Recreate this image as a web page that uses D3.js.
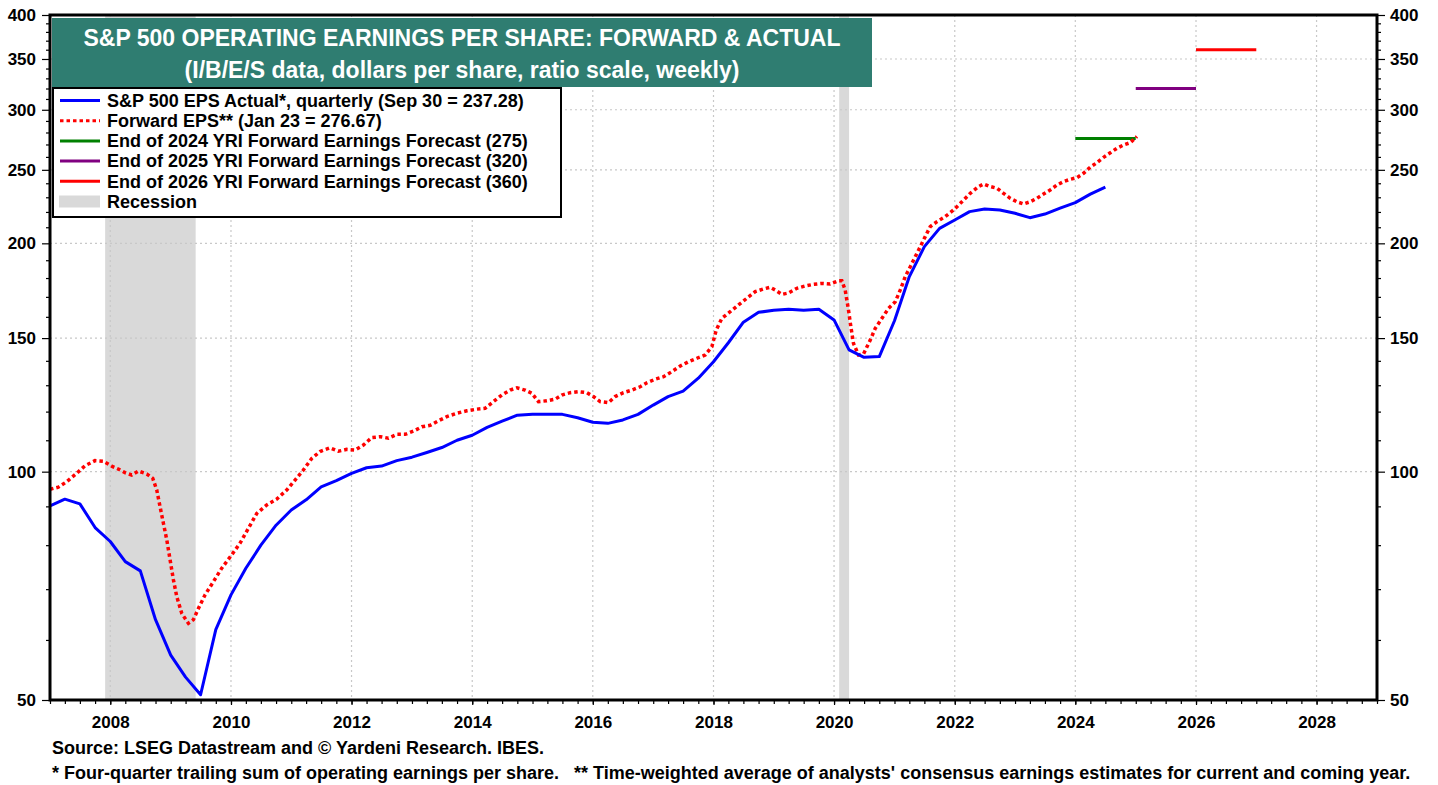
<!DOCTYPE html>
<html>
<head>
    <meta charset="utf-8">
    <style>
        body { margin: 0; background: #fff; }
        svg { font-family: Arial, 'Liberation Sans', sans-serif; font-weight: bold; }
        .grid line { stroke: #c8c8c8; stroke-width: 1.2; stroke-dasharray: 2,3; }
        .axis text { font-size: 17px; font-weight: bold; fill: #000; }
        .axis line { stroke: #000; stroke-width: 1.2; }
    </style>
</head>
<body>
<svg width="1438" height="785"></svg>

<script src="https://d3js.org/d3.v7.min.js"></script>
<script>
    // ---- data ----
    // S&P 500 actual EPS, four-quarter trailing, one value per quarter starting Q1 2007
    let actualStart = "2007-01-01"
    let actualEps = [90.1, 92.0, 90.7, 84.4, 80.9, 76.1, 74.0, 63.8, 57.3, 53.6,
        50.8, 61.9, 68.8, 74.6, 80.0, 85.0, 89.0, 91.8, 95.5, 97.3,
        99.5, 101.2, 101.7, 103.4, 104.5, 106.0, 107.6, 110.0, 111.7, 114.4,
        116.6, 118.7, 119.0, 119.0, 119.0, 117.8, 116.2, 115.8, 117.0, 119.0,
        122.4, 125.6, 127.7, 132.8, 139.6, 147.9, 157.4, 162.2, 163.2, 163.7,
        163.2, 163.7, 158.5, 144.7, 141.5, 141.8, 158.1, 180.8, 198.0, 209.3,
        214.7, 220.2, 222.0, 221.3, 219.1, 216.2, 218.6, 222.5, 226.3, 232.2,
        237.28]

    // forward EPS, sampled from the weekly line (decimal years)
    let fwdYears = [2007.000, 2007.138, 2007.277, 2007.443, 2007.580, 2007.746, 2007.884, 2008.023, 2008.133, 2008.244,
        2008.355, 2008.464, 2008.604, 2008.703, 2008.769, 2008.824, 2008.879, 2008.935, 2008.990, 2009.045,
        2009.101, 2009.184, 2009.294, 2009.376, 2009.459, 2009.570, 2009.708, 2009.847, 2010.013, 2010.151,
        2010.289, 2010.428, 2010.594, 2010.760, 2010.925, 2011.063, 2011.201, 2011.340, 2011.478, 2011.643,
        2011.781, 2011.920, 2012.058, 2012.196, 2012.335, 2012.473, 2012.610, 2012.750, 2012.887, 2013.025,
        2013.164, 2013.302, 2013.439, 2013.579, 2013.745, 2013.910, 2014.076, 2014.214, 2014.352, 2014.491,
        2014.629, 2014.740, 2014.877, 2014.988, 2015.098, 2015.237, 2015.375, 2015.486, 2015.624, 2015.761,
        2015.900, 2016.010, 2016.121, 2016.259, 2016.370, 2016.508, 2016.647, 2016.784, 2016.896, 2017.033,
        2017.171, 2017.310, 2017.448, 2017.585, 2017.725, 2017.862, 2017.973, 2018.045, 2018.139, 2018.277,
        2018.415, 2018.554, 2018.692, 2018.829, 2018.940, 2019.023, 2019.134, 2019.244, 2019.383, 2019.521,
        2019.658, 2019.798, 2019.935, 2020.073, 2020.129, 2020.184, 2020.239, 2020.278, 2020.322, 2020.405,
        2020.488, 2020.599, 2020.682, 2020.793, 2020.902, 2021.013, 2021.096, 2021.179, 2021.262, 2021.345,
        2021.428, 2021.510, 2021.593, 2021.705, 2021.842, 2021.980, 2022.119, 2022.257, 2022.395, 2022.478,
        2022.589, 2022.700, 2022.809, 2022.920, 2023.031, 2023.141, 2023.252, 2023.363, 2023.473, 2023.584,
        2023.695, 2023.804, 2023.915, 2024.026, 2024.136, 2024.247, 2024.357, 2024.468, 2024.579, 2024.688,
        2024.799, 2024.910, 2025.020]
    let fwdEps = [94.8, 95.4, 97.0, 99.5, 101.8, 103.4, 103.2, 101.7, 100.8, 99.7,
        99.0, 100.2, 99.3, 98.0, 94.6, 89.9, 85.5, 81.3, 76.5, 72.0,
        68.4, 65.0, 63.1, 63.8, 66.0, 68.8, 71.6, 74.6, 77.7, 80.5,
        84.2, 88.1, 90.4, 92.0, 94.6, 97.5, 100.5, 104.1, 106.3, 107.5,
        106.4, 107.0, 106.8, 108.4, 110.9, 111.2, 110.7, 112.0, 112.0, 113.1,
        114.6, 115.1, 116.7, 118.2, 119.4, 120.3, 120.9, 121.2, 123.7, 126.2,
        128.1, 129.0, 128.1, 126.9, 123.7, 124.0, 124.6, 126.2, 127.1, 127.5,
        127.1, 125.6, 123.7, 123.3, 125.6, 127.1, 128.1, 129.4, 131.0, 132.4,
        133.4, 135.5, 137.8, 139.6, 141.1, 142.5, 146.1, 153.7, 159.3, 162.5,
        165.9, 169.3, 172.7, 174.1, 175.0, 173.6, 171.3, 172.0, 174.5, 175.7,
        176.6, 177.1, 176.8, 178.5, 178.5, 173.6, 163.4, 155.3, 147.6, 142.5,
        143.0, 149.1, 154.5, 159.3, 164.2, 167.5, 173.6, 180.8, 186.3, 192.1,
        198.0, 204.1, 210.4, 213.6, 216.9, 221.3, 226.9, 232.8, 237.6, 239.5,
        237.6, 236.4, 232.8, 229.3, 226.9, 225.4, 226.9, 229.3, 232.3, 235.2,
        238.7, 241.2, 242.9, 244.1, 247.4, 252.0, 255.5, 259.7, 263.3, 266.9,
        269.6, 271.5, 276.67]

    // YRI forecasts for year-end 2024, 2025, 2026
    let forecastYears = [2024, 2025, 2026]
    let forecastValues = [275, 320, 360]
    let forecastColors = ["#008000", "#800080", "#ff0000"]

    let recessions = [["2007-12-01", "2009-06-01"], ["2020-02-01", "2020-04-01"]]

    let yTicks = [50, 100, 150, 200, 250, 300, 350, 400]
    let xLabelYears = [2008, 2010, 2012, 2014, 2016, 2018, 2020, 2022, 2024, 2026, 2028]

    let legendLabels = [
        "S&P 500 EPS Actual*, quarterly (Sep 30 = 237.28)",
        "Forward EPS** (Jan 23 = 276.67)",
        "End of 2024 YRI Forward Earnings Forecast (275)",
        "End of 2025 YRI Forward Earnings Forecast (320)",
        "End of 2026 YRI Forward Earnings Forecast (360)",
        "Recession"
    ]

    // ---- layout ----
    let margin = { top: 15, right: 61, bottom: 85, left: 50 }
    let width = 1438, height = 785
    let svg = d3.select("svg")

    let parseDate = d3.timeParse("%Y-%m-%d")
    function yearToDate(yr) {
        let y0 = Math.floor(yr)
        let start = new Date(y0, 0, 1), end = new Date(y0 + 1, 0, 1)
        return new Date(+start + (yr - y0) * (end - start))
    }

    let x = d3.scaleTime()
        .domain([new Date(2007, 0, 1), new Date(2029, 0, 1)])
        .range([margin.left, width - margin.right])
    let y = d3.scaleLog()
        .domain([50, 400])
        .range([height - margin.bottom, margin.top])

    let pLeft = margin.left, pRight = width - margin.right
    let pTop = margin.top, pBottom = height - margin.bottom

    // recession shading
    svg.append("g").selectAll("rect")
        .data(recessions)
        .enter().append("rect")
        .attr("x", d => x(parseDate(d[0])))
        .attr("width", d => x(parseDate(d[1])) - x(parseDate(d[0])))
        .attr("y", pTop)
        .attr("height", pBottom - pTop)
        .attr("fill", "#d9d9d9")

    // grid
    let grid = svg.append("g").attr("class", "grid")
    grid.selectAll(".h").data(yTicks.slice(1, -1)).enter().append("line")
        .attr("x1", pLeft).attr("x2", pRight)
        .attr("y1", d => y(d)).attr("y2", d => y(d))
    grid.selectAll(".v").data(xLabelYears).enter().append("line")
        .attr("x1", d => x(new Date(d, 0, 1))).attr("x2", d => x(new Date(d, 0, 1)))
        .attr("y1", pTop).attr("y2", pBottom)

    // axes
    let minorY = d3.range(60, 400, 10).filter(v => v % 50 != 0)
    svg.append("g").attr("class", "axis")
        .attr("transform", `translate(${pLeft},0)`)
        .call(d3.axisLeft(y).tickValues(yTicks).tickFormat(d3.format("d")).tickSize(8).tickPadding(6))
        .call(g => g.select(".domain").remove())
    svg.append("g").attr("class", "axis")
        .attr("transform", `translate(${pLeft},0)`)
        .call(d3.axisLeft(y).tickValues(minorY).tickFormat("").tickSize(4))
        .call(g => g.select(".domain").remove())
    svg.append("g").attr("class", "axis")
        .attr("transform", `translate(${pRight},0)`)
        .call(d3.axisRight(y).tickValues(yTicks).tickFormat(d3.format("d")).tickSize(8).tickPadding(5))
        .call(g => g.select(".domain").remove())
    svg.append("g").attr("class", "axis")
        .attr("transform", `translate(${pRight},0)`)
        .call(d3.axisRight(y).tickValues(minorY).tickFormat("").tickSize(4))
        .call(g => g.select(".domain").remove())

    svg.append("g").attr("class", "axis")
        .attr("transform", `translate(0,${pBottom})`)
        .call(d3.axisBottom(x).ticks(d3.timeMonth.every(3)).tickFormat("").tickSize(4))
        .call(g => g.select(".domain").remove())
    svg.append("g").attr("class", "axis")
        .attr("transform", `translate(0,${pBottom})`)
        .call(d3.axisBottom(x).tickValues(xLabelYears.map(d => new Date(d, 0, 1)))
            .tickFormat(d3.timeFormat("%Y")).tickSize(5).tickPadding(11))
        .call(g => g.select(".domain").remove())

    // clip
    svg.append("clipPath").attr("id", "plot")
        .append("rect").attr("x", pLeft).attr("y", pTop)
        .attr("width", pRight - pLeft).attr("height", pBottom - pTop)

    let plot = svg.append("g").attr("clip-path", "url(#plot)")

    // forecast bars
    plot.selectAll(".fc").data(forecastValues).enter().append("line")
        .attr("x1", (d, i) => x(new Date(forecastYears[i], 0, 1)))
        .attr("x2", (d, i) => x(new Date(forecastYears[i] + 1, 0, 1)))
        .attr("y1", d => y(d)).attr("y2", d => y(d))
        .attr("stroke", (d, i) => forecastColors[i])
        .attr("stroke-width", 3)

    let actualData = actualEps.map((v, i) => ({ date: d3.timeMonth.offset(parseDate(actualStart), 3 * i), value: v }))
    let fwdData = fwdEps.map((v, i) => ({ date: yearToDate(fwdYears[i]), value: v }))

    let line = d3.line()
        .x(d => x(d.date))
        .y(d => y(d.value))

    plot.append("path")
        .datum(fwdData)
        .attr("d", line)
        .attr("fill", "none")
        .attr("stroke", "#ff0000")
        .attr("stroke-width", 3.5)
        .attr("stroke-dasharray", "3.5,3")

    plot.append("path")
        .datum(actualData)
        .attr("d", line)
        .attr("fill", "none")
        .attr("stroke", "#0000ff")
        .attr("stroke-width", 3)
        .attr("stroke-linejoin", "round")

    // frame
    svg.append("rect")
        .attr("x", pLeft).attr("y", pTop)
        .attr("width", pRight - pLeft).attr("height", pBottom - pTop)
        .attr("fill", "none").attr("stroke", "#000").attr("stroke-width", 3)

    // title box
    svg.append("rect")
        .attr("x", 52).attr("y", 18).attr("width", 820).attr("height", 69)
        .attr("fill", "#2f7d71")
    svg.append("text")
        .attr("x", 462).attr("y", 46)
        .attr("text-anchor", "middle").attr("fill", "#fff")
        .style("font-size", "23px")
        .text("S&P 500 OPERATING EARNINGS PER SHARE: FORWARD & ACTUAL")
    svg.append("text")
        .attr("x", 462).attr("y", 78)
        .attr("text-anchor", "middle").attr("fill", "#fff")
        .style("font-size", "23px")
        .text("(I/B/E/S data, dollars per share, ratio scale, weekly)")

    // legend
    let legend = svg.append("g")
    legend.append("rect")
        .attr("x", 53).attr("y", 88).attr("width", 508).attr("height", 129)
        .attr("fill", "#fff").attr("stroke", "#000").attr("stroke-width", 2)
    let swatchColors = ["#0000ff", "#ff0000"].concat(forecastColors)
    let rowY = i => 100.5 + i * 20.2
    legend.selectAll(".sw").data(swatchColors).enter().append("line")
        .attr("x1", 60).attr("x2", 100)
        .attr("y1", (d, i) => rowY(i)).attr("y2", (d, i) => rowY(i))
        .attr("stroke", d => d)
        .attr("stroke-width", 3)
        .attr("stroke-dasharray", (d, i) => i == 1 ? "3.5,3" : null)
    legend.append("rect")
        .attr("x", 59).attr("y", rowY(5) - 6).attr("width", 41).attr("height", 12)
        .attr("fill", "#d9d9d9")
    legend.selectAll(".lt").data(legendLabels).enter().append("text")
        .attr("x", 107).attr("y", (d, i) => rowY(i))
        .attr("dy", "0.35em")
        .style("font-size", "18px")
        .text(d => d)

    // footnotes
    svg.append("text").attr("x", 52).attr("y", 754).style("font-size", "18px")
        .text("Source: LSEG Datastream and © Yardeni Research. IBES.")
    svg.append("text").attr("x", 52).attr("y", 779).style("font-size", "18px")
        .style("white-space", "pre")
        .text("* Four-quarter trailing sum of operating earnings per share.   ** Time-weighted average of analysts' consensus earnings estimates for current and coming year.")
</script>
</body>
</html>
